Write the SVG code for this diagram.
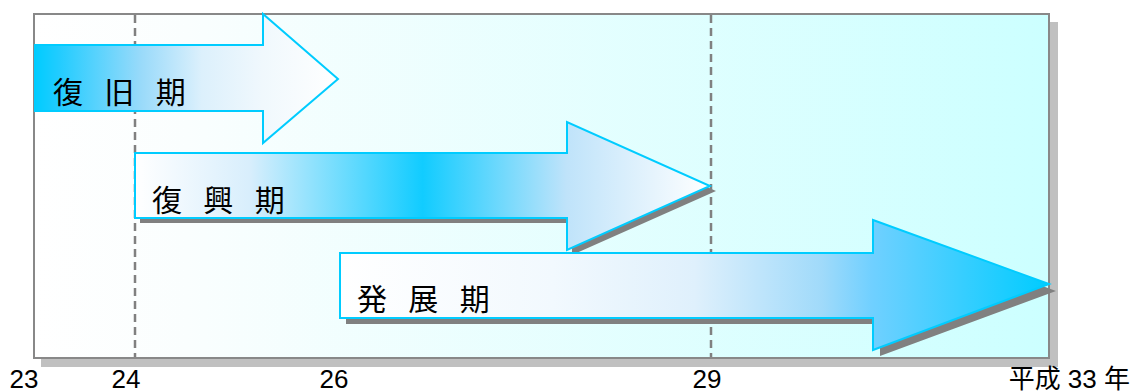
<svg xmlns="http://www.w3.org/2000/svg" width="1133" height="392" viewBox="0 0 1133 392">
  <defs>
    <linearGradient id="bg" x1="0" y1="0" x2="1" y2="0">
      <stop offset="0" stop-color="#ffffff"/>
      <stop offset="0.15" stop-color="#fafefe"/>
      <stop offset="1" stop-color="#ccffff"/>
    </linearGradient>
    <linearGradient id="g1" x1="0" y1="0" x2="1" y2="0">
      <stop offset="0" stop-color="#00ccff"/>
      <stop offset="0.08" stop-color="#22ccff"/>
      <stop offset="0.35" stop-color="#99dafa"/>
      <stop offset="0.55" stop-color="#dcf0fc"/>
      <stop offset="0.75" stop-color="#f0f8fd"/>
      <stop offset="1" stop-color="#ffffff"/>
    </linearGradient>
    <linearGradient id="g2" x1="0" y1="0" x2="1" y2="0">
      <stop offset="0" stop-color="#ffffff"/>
      <stop offset="0.2" stop-color="#d8eefc"/>
      <stop offset="0.5" stop-color="#11ccff"/>
      <stop offset="0.75" stop-color="#bfe3fa"/>
      <stop offset="1" stop-color="#ffffff"/>
    </linearGradient>
    <linearGradient id="g3" x1="0" y1="0" x2="1" y2="0">
      <stop offset="0" stop-color="#ffffff"/>
      <stop offset="0.3" stop-color="#f2f9fe"/>
      <stop offset="0.5" stop-color="#dff0fc"/>
      <stop offset="0.68" stop-color="#a0dafa"/>
      <stop offset="0.75" stop-color="#70d0ff"/>
      <stop offset="1" stop-color="#00ccff"/>
    </linearGradient>
  </defs>
  <style>
    .arrow { stroke: #00ccff; stroke-width: 2; stroke-linejoin: miter; }
    .shadow { fill: #808080; }
    .label { font-family: "Liberation Sans", "Noto Sans CJK JP", sans-serif; font-size: 30px; fill: #000; letter-spacing: 6.5px; }
    .axis { font-family: "Liberation Sans", "Noto Sans CJK JP", sans-serif; font-size: 26px; fill: #000; }
    .guide { stroke: #808080; stroke-width: 2.5; stroke-dasharray: 8 5; fill: none; }
  </style>

  <g id="frame">
    <rect x="41" y="22" width="1017" height="345" fill="#c0c0c0"/>
    <rect x="34" y="14" width="1015" height="344" fill="url(#bg)" stroke="#888888" stroke-width="2"/>
  </g>

  <g id="connectors">
    <line class="guide" x1="135" y1="15" x2="135" y2="357"/>
    <line class="guide" x1="711" y1="15" x2="711" y2="357"/>
  </g>

  <g id="phase-recovery">
    <polygon class="arrow" fill="url(#g1)" points="35,45 263,45 263,14 338,79 263,143 263,111 35,111"/>
    <text class="label" x="53" y="103">復 旧 期</text>
  </g>

  <g id="phase-reconstruction">
    <polygon class="shadow" points="140,158 572,158 572,127 716,191 572,255 572,223 140,223"/>
    <polygon class="arrow" fill="url(#g2)" points="135,153 567,153 567,122 710,186 567,250 567,218 135,218"/>
    <text class="label" x="152" y="211">復 興 期</text>
  </g>

  <g id="phase-development">
    <polygon class="shadow" points="346,259 880,259 880,226 1056,291 880,356 880,324 346,324"/>
    <polygon class="arrow" fill="url(#g3)" points="340,253 873,253 873,220 1049,284 873,350 873,318 340,318"/>
    <text class="label" x="357" y="310">発 展 期</text>
  </g>

  <g id="axis-labels">
    <text class="axis" x="24" y="388" text-anchor="middle">23</text>
    <text class="axis" x="126" y="388" text-anchor="middle">24</text>
    <text class="axis" x="334" y="388" text-anchor="middle">26</text>
    <text class="axis" x="707" y="388" text-anchor="middle">29</text>
    <text class="axis" x="1130" y="388" text-anchor="end" font-size="27">平成 33 年</text>
  </g>
</svg>
